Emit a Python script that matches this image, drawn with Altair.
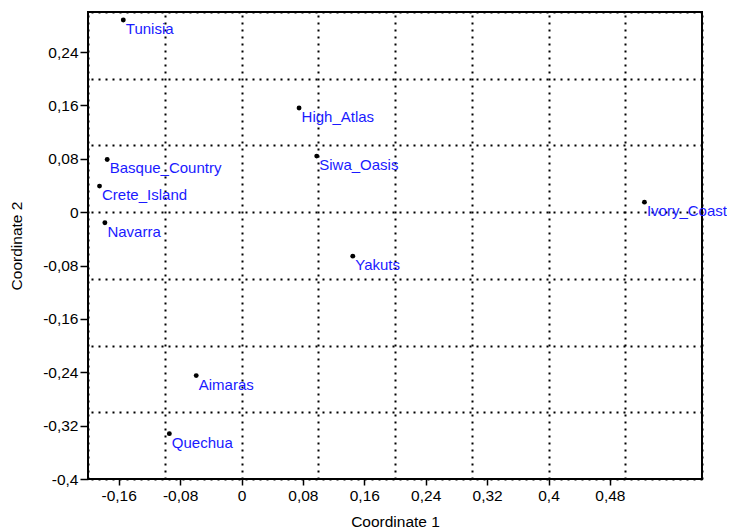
import altair as alt
import pandas as pd

# Data
names = ["Tunisia", "High_Atlas", "Basque_Country", "Siwa_Oasis", "Crete_Island",
         "Navarra", "Ivory_Coast", "Yakuts", "Aimaras", "Quechua"]
coord1 = [-0.154, 0.075, -0.175, 0.098, -0.185, -0.178, 0.525, 0.145, -0.059, -0.094]
coord2 = [0.288, 0.156, 0.079, 0.084, 0.039, -0.016, 0.015, -0.066, -0.245, -0.332]

x_ticks = [-0.16, -0.08, 0, 0.08, 0.16, 0.24, 0.32, 0.4, 0.48]
y_ticks = [-0.4, -0.32, -0.24, -0.16, -0.08, 0, 0.08, 0.16, 0.24]
x_grid = [-0.2, -0.1, 0, 0.1, 0.2, 0.3, 0.4, 0.5, 0.6]
y_grid = [-0.4, -0.3, -0.2, -0.1, 0, 0.1, 0.2, 0.3]
x_domain = [-0.2, 0.6]
y_domain = [-0.4, 0.3]

df = pd.DataFrame({"name": names, "c1": coord1, "c2": coord2})

FONT = "Liberation Sans"
FS = 15.5
LFS = 15
comma = "replace(toString(datum.value), '.', ',')"

xs = alt.Scale(domain=x_domain, nice=False, zero=False)
ys = alt.Scale(domain=y_domain, nice=False, zero=False)

x_tick_axis = alt.Axis(values=x_ticks, grid=False, domain=False, ticks=True, tickSize=6,
                       tickWidth=1.5, tickColor="black", labelExpr=comma,
                       labelFontSize=FS, labelFont=FONT, labelColor="black", labelPadding=3,
                       labelFlush=False, labelOverlap=False, orient="bottom",
                       titleFont=FONT, titleFontSize=FS, titleFontWeight="normal",
                       titleColor="black", titlePadding=11)
y_tick_axis = alt.Axis(values=y_ticks, grid=False, domain=False, ticks=True, tickSize=8,
                       tickWidth=1.5, tickColor="black", labelExpr=comma,
                       labelFontSize=FS, labelFont=FONT, labelColor="black", labelPadding=2,
                       labelFlush=False, labelOverlap=False, orient="left",
                       titleFont=FONT, titleFontSize=FS, titleFontWeight="normal",
                       titleColor="black", titlePadding=18)

x_grid_axis = alt.Axis(values=x_grid, grid=True, gridDash=[2, 5], gridColor="black",
                       gridWidth=2, gridOpacity=1, labels=False, ticks=False, domain=False,
                       orient="top")
y_grid_axis = alt.Axis(values=y_grid, grid=True, gridDash=[2, 5], gridColor="black",
                       gridWidth=2, gridOpacity=1, labels=False, ticks=False, domain=False,
                       orient="right")

points = alt.Chart(df).mark_circle(size=24, color="black", opacity=1).encode(
    x=alt.X("c1:Q", scale=xs, axis=x_tick_axis, title="Coordinate 1"),
    y=alt.Y("c2:Q", scale=ys, axis=y_tick_axis, title="Coordinate 2"),
)

labels = alt.Chart(df).mark_text(align="left", baseline="alphabetic", dx=2.5, dy=14,
                                 color="#1a1aff", fontSize=LFS, font=FONT).encode(
    x=alt.X("c1:Q", scale=xs, axis=x_grid_axis, title=""),
    y=alt.Y("c2:Q", scale=ys, axis=y_grid_axis, title=""),
    text="name:N",
)

chart = alt.layer(labels, points).resolve_axis(x="independent", y="independent").properties(
    width=614, height=467,
    autosize=alt.AutoSizeParams(type="none"),
    padding={"left": 80, "top": 4, "right": 25, "bottom": 52},
    background="white",
).configure_view(stroke="black", strokeWidth=2)

chart.save("out.html", embed_options={"renderer": "svg", "actions": False})
